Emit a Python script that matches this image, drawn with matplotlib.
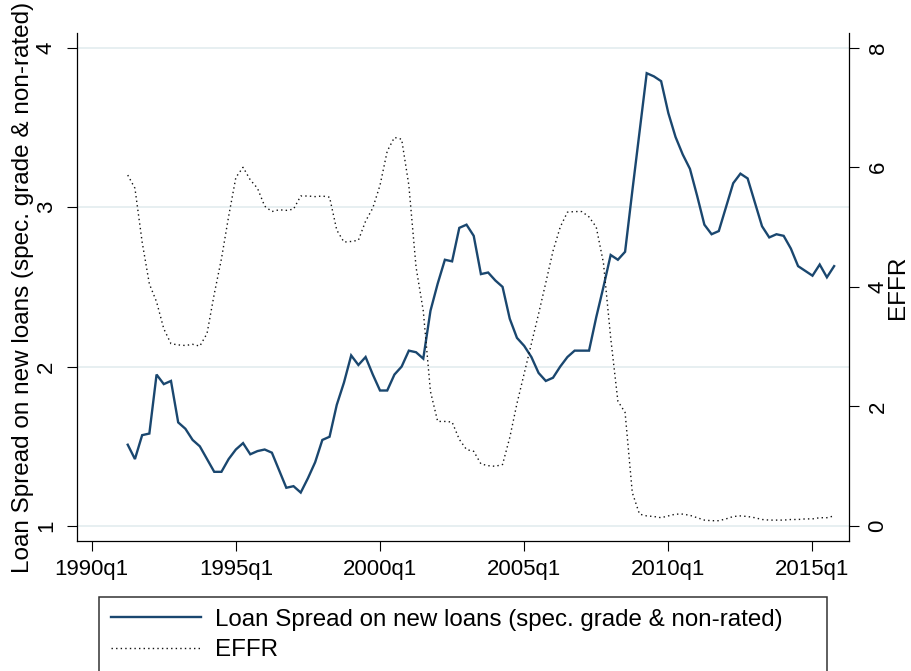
"""
Loan spread on new loans vs. EFFR — quarterly, dual axis (Stata-style)
"""
import matplotlib
matplotlib.use("Agg")
import matplotlib.pyplot as plt
import numpy as np
import pandas as pd

plt.rcParams["font.family"] = ["Liberation Sans", "DejaVu Sans"]

# ── data (1991q2 .. 2015q4) ───────────────────────────────
start_q = "1991Q2"
loan_spread = [
    1.51, 1.42, 1.57, 1.58, 1.95, 1.89, 1.91, 1.65, 1.61, 1.54,
    1.50, 1.42, 1.34, 1.34, 1.42, 1.48, 1.52, 1.45, 1.47, 1.48,
    1.46, 1.35, 1.24, 1.25, 1.21, 1.30, 1.40, 1.54, 1.56, 1.76,
    1.90, 2.07, 2.01, 2.06, 1.95, 1.85, 1.85, 1.95, 2.00, 2.10,
    2.09, 2.05, 2.35, 2.52, 2.67, 2.66, 2.87, 2.89, 2.82, 2.58,
    2.59, 2.54, 2.50, 2.30, 2.18, 2.13, 2.06, 1.96, 1.91, 1.93,
    2.00, 2.06, 2.10, 2.10, 2.10, 2.31, 2.50, 2.70, 2.67, 2.72,
    3.10, 3.47, 3.84, 3.82, 3.79, 3.59, 3.44, 3.33, 3.24, 3.07,
    2.89, 2.83, 2.85, 3.00, 3.15, 3.21, 3.18, 3.03, 2.88, 2.81,
    2.83, 2.82, 2.74, 2.63, 2.60, 2.57, 2.64, 2.56, 2.63,
]
effr = [
    5.87, 5.65, 4.75, 4.05, 3.75, 3.30, 3.05, 3.03, 3.02, 3.04,
    3.01, 3.22, 3.88, 4.47, 5.18, 5.83, 6.00, 5.79, 5.65, 5.35,
    5.26, 5.29, 5.28, 5.30, 5.52, 5.52, 5.51, 5.52, 5.50, 4.95,
    4.75, 4.76, 4.78, 5.10, 5.32, 5.70, 6.27, 6.50, 6.47, 5.70,
    4.33, 3.60, 2.25, 1.75, 1.75, 1.74, 1.45, 1.28, 1.25, 1.04,
    1.01, 1.00, 1.03, 1.48, 2.05, 2.55, 3.05, 3.55, 4.07, 4.60,
    5.00, 5.25, 5.26, 5.26, 5.17, 5.00, 4.40, 3.15, 2.09, 1.90,
    0.56, 0.20, 0.17, 0.16, 0.14, 0.17, 0.20, 0.20, 0.18, 0.14,
    0.10, 0.09, 0.09, 0.12, 0.16, 0.17, 0.16, 0.14, 0.11, 0.10,
    0.10, 0.10, 0.11, 0.11, 0.12, 0.12, 0.14, 0.14, 0.17,
]
xtick_labels = ["1990q1", "1995q1", "2000q1", "2005q1", "2010q1", "2015q1"]
left_ticks = [1, 2, 3, 4]
right_ticks = [0, 2, 4, 6, 8]

# quarter index relative to 1990q1
base = pd.Period("1990Q1", freq="Q")
periods = pd.period_range(start_q, periods=len(loan_spread), freq="Q")
x = np.array([(p - base).n for p in periods])
xticks = [(pd.Period(l.replace("q", "Q"), freq="Q") - base).n for l in xtick_labels]

NAVY = "#1A476F"
GRID = "#E3ECEF"
FS_TICK = 16
FS_LAB = 17.5
FS_LEG = 17.4

# ── figure ────────────────────────────────────────────────
fig = plt.figure(figsize=(9.12, 6.71), dpi=100)
fig.patch.set_facecolor("white")
ax = fig.add_axes([0.0841, 0.1937, 0.8471, 0.7571])
ax2 = ax.twinx()

l1, = ax.plot(x, loan_spread, color=NAVY, lw=1.7, zorder=3,
              solid_joinstyle="miter")
l2, = ax2.plot(x, effr, color="#111111", lw=1.0, linestyle=(0, (1, 2.3)),
               zorder=3)

ax.set_xlim(-2.08, 105.1)
ax.set_ylim(0.906, 4.092)
ax2.set_ylim(-0.25, 8.246)

ax.set_xticks(xticks)
ax.set_xticklabels(xtick_labels)
ax.set_yticks(left_ticks)
ax2.set_yticks(right_ticks)

ax.grid(axis="y", color=GRID, lw=1.2)
ax.grid(axis="x", visible=False)
ax.set_axisbelow(True)

for a in (ax, ax2):
    a.spines["top"].set_visible(False)
    for s in a.spines.values():
        s.set_linewidth(0.9)
        s.set_color("black")
ax.spines["right"].set_visible(False)
ax2.spines["left"].set_visible(False)
ax2.spines["bottom"].set_visible(False)

ax.tick_params(axis="x", direction="out", length=7.2, width=0.8,
               labelsize=FS_TICK, pad=6)
ax.tick_params(axis="y", direction="out", length=7.2, width=0.8,
               labelsize=FS_TICK, pad=7, labelrotation=90)
ax2.tick_params(axis="y", direction="out", length=7.2, width=0.8,
                labelsize=FS_TICK, pad=6, labelrotation=90)
plt.setp(ax.get_yticklabels(), va="center")
plt.setp(ax2.get_yticklabels(), va="center")

ax.set_ylabel("Loan Spread on new loans (spec. grade & non-rated)",
              fontsize=FS_LAB, va="center")
ax.yaxis.set_label_coords(-0.0695, 0.5)
ax2.set_ylabel("EFFR", fontsize=FS_LAB, va="center", rotation=90)
ax2.yaxis.set_label_coords(1.063, 0.5)

# ── legend below the plot (bottom edge runs off the figure) ──
leg = fig.legend([l1, l2],
                 ["Loan Spread on new loans (spec. grade & non-rated)", "EFFR"],
                 loc="upper left",
                 bbox_to_anchor=(99.3 / 912, 1 - 596.7 / 671, 727.4 / 912, 0.0),
                 bbox_transform=fig.transFigure, mode="expand",
                 fontsize=FS_LEG, frameon=True, fancybox=False, shadow=False,
                 handlelength=3.7, handletextpad=0.6, borderpad=0.5,
                 labelspacing=0.36, borderaxespad=0.0)
leg.get_frame().set_edgecolor("#333333")
leg.get_frame().set_linewidth(1.1)
leg.get_frame().set_alpha(1)

fig.savefig("out.png", dpi=100, facecolor="white")
